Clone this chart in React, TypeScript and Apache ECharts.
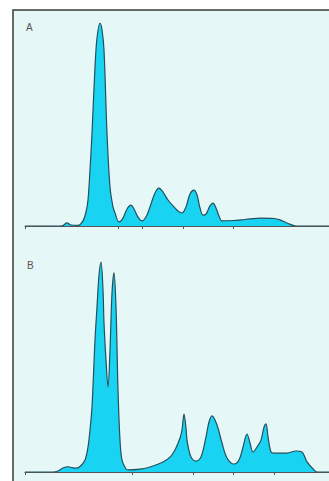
import React, { useEffect, useRef } from "react";
import * as echarts from "echarts";

// Panel A trace (x: scan position, y: relative intensity %)
const timeA = [0, 35, 38, 42, 46, 53, 58, 61, 63, 65, 67, 70, 72, 75, 77, 79, 82, 85, 88, 90, 94, 98, 102, 106, 109, 113, 117, 121, 125, 130, 134, 138, 143, 149, 153, 157, 161, 165, 169, 172, 175, 178, 181, 185, 188, 191, 194, 197, 208, 220, 236, 249, 255, 262, 271, 304];
const signalA = [0, 0, 0.2, 1.5, 0.5, 0.3, 2.5, 6.9, 12.8, 27.6, 45.8, 78.3, 92.6, 100, 96.6, 86.7, 45.8, 19.2, 9.4, 6.4, 2.0, 3.9, 8.4, 10.3, 8.4, 4.4, 2.5, 4.4, 9.4, 16.3, 18.7, 16.7, 12.8, 9.4, 7.4, 6.4, 9.4, 15.8, 17.7, 15.3, 8.9, 5.4, 5.9, 9.9, 11.3, 8.9, 4.9, 2.5, 2.7, 3.2, 3.9, 3.7, 3.0, 1.5, 0, 0];

// Panel B trace
const timeB = [0, 28, 33, 38, 43, 47, 51, 55, 60, 63, 65, 67, 70, 72, 74, 76, 78, 79, 81, 83, 85, 87, 89, 91, 93, 95, 97, 101, 103, 115, 125, 138, 145, 150, 155, 157, 159, 161, 162, 166, 171, 176, 181, 184, 187, 192, 197, 202, 209, 214, 218, 222, 225, 228, 232, 236, 239, 241, 243, 246, 249, 262, 271, 277, 282, 289, 292, 304];
const signalB = [0, 0, 0.5, 1.9, 2.5, 2.1, 1.8, 2.6, 5.7, 11.9, 20.0, 31.0, 62.9, 78.6, 93.8, 100, 86.7, 71.0, 53.3, 40.5, 58.1, 85.2, 94.8, 78.6, 39.0, 15.2, 5.7, 1.4, 1.0, 1.4, 2.4, 4.8, 7.1, 10.5, 16.2, 20.0, 27.6, 21.0, 15.2, 7.1, 5.2, 7.1, 16.7, 23.8, 26.7, 22.4, 13.8, 6.7, 3.8, 5.7, 11.9, 18.1, 13.8, 9.5, 11.9, 15.2, 21.4, 22.9, 16.7, 9.5, 9.0, 9.0, 10.0, 9.5, 4.8, 1.0, 0, 0];

const ticksA = [0, 93, 117, 158, 208];
const ticksB = [0, 107, 168, 208, 249];
const panelLabels = ["A", "B"];

const FILL = "#18d4f2";
const LINE = "#24505c";

export default function App() {
  const ref = useRef<HTMLDivElement>(null);
  useEffect(() => {
    if (!ref.current) return;
    const chart = echarts.init(ref.current, undefined, { renderer: "svg" });
    const xAxisBase = (ticks: number[], gridIndex: number) => ({
      type: "value",
      gridIndex,
      min: 0,
      max: 304,
      axisLine: { show: true, lineStyle: { color: "#555", width: 1 } },
      axisTick: { show: true, customValues: ticks, length: 3, lineStyle: { color: "#555", width: 1 } },
      axisLabel: { show: false },
      splitLine: { show: false },
    });
    const yAxisBase = (gridIndex: number) => ({
      type: "value",
      gridIndex,
      min: 0,
      max: 100,
      show: false,
      splitLine: { show: false },
    });
    const series = (xs: number[], ys: number[], idx: number) => ({
      type: "line",
      xAxisIndex: idx,
      yAxisIndex: idx,
      data: xs.map((x, i) => [x, ys[i]]),
      smooth: 0.35,
      showSymbol: false,
      lineStyle: { color: LINE, width: 1.2 },
      areaStyle: { color: FILL, opacity: 1 },
      z: 2,
    });
    chart.setOption({
      animation: false,
      backgroundColor: "#ffffff",
      grid: [
        { left: 25, right: 0, top: 23, height: 203 },
        { left: 25, right: 0, top: 262, height: 210 },
      ],
      xAxis: [xAxisBase(ticksA, 0), xAxisBase(ticksB, 1)],
      yAxis: [yAxisBase(0), yAxisBase(1)],
      series: [series(timeA, signalA, 0), series(timeB, signalB, 1)],
      graphic: [
        {
          type: "rect",
          z: -10,
          silent: true,
          shape: { x: 13, y: 10, width: 316, height: 471 },
          style: { fill: "#e5f7f7" },
        },
        {
          type: "polyline",
          z: 10,
          silent: true,
          shape: { points: [[13, 481], [13, 10], [329, 10]] },
          style: { stroke: "#3a3a3a", lineWidth: 1.5, fill: null },
        },
        {
          type: "text",
          x: 26,
          y: 22,
          style: { text: panelLabels[0], fontSize: 10, fill: "#555", fontFamily: "Liberation Sans, Arial, sans-serif" },
        },
        {
          type: "text",
          x: 27,
          y: 260,
          style: { text: panelLabels[1], fontSize: 10, fill: "#555", fontFamily: "Liberation Sans, Arial, sans-serif" },
        },
      ],
    });
    return () => chart.dispose();
  }, []);
  return (
    <div
      ref={ref}
      style={{ position: "fixed", left: 0, top: 0, width: 329, height: 481 }}
    />
  );
}
